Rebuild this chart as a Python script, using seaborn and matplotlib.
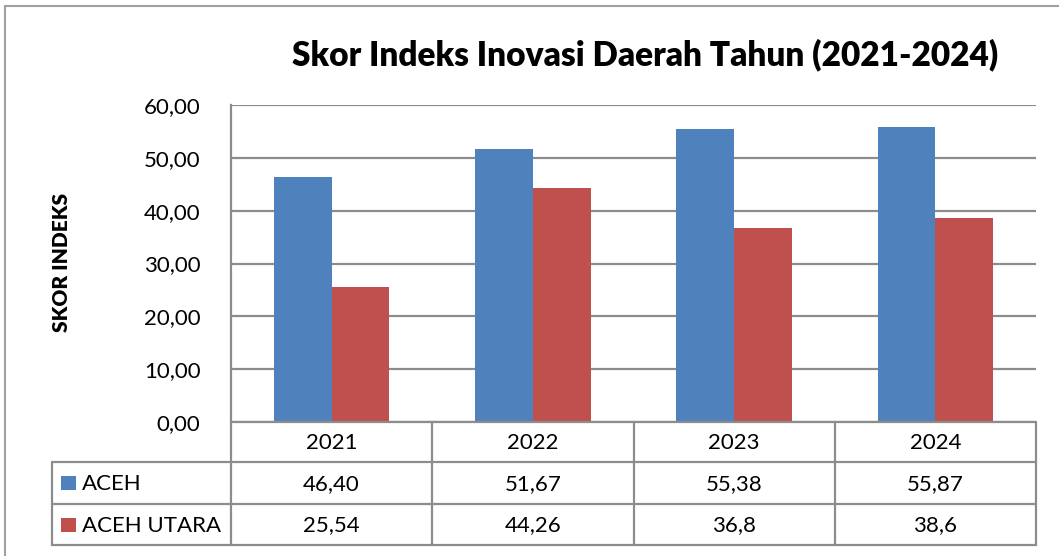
import matplotlib
matplotlib.use("Agg")
import matplotlib.pyplot as plt
import matplotlib.transforms as mtransforms
from matplotlib.patches import Rectangle
import seaborn as sns
import pandas as pd

# Data: index scores per year (decimal comma as published)
years = ["2021", "2022", "2023", "2024"]
series_names = ["ACEH", "ACEH UTARA"]
aceh_text = ["46,40", "51,67", "55,38", "55,87"]
aceh_utara_text = ["25,54", "44,26", "36,8", "38,6"]
y_ticks = [0, 10, 20, 30, 40, 50, 60]

colors = ["#4F81BD", "#C0504D"]
grid_col = "#8C8C8C"
font = ["Lato", "DejaVu Sans"]
fs = 16


def to_num(s):
    return float(s.replace(",", "."))


rows = []
for name, texts in zip(series_names, [aceh_text, aceh_utara_text]):
    for yr, t in zip(years, texts):
        rows.append({"Tahun": yr, "Wilayah": name, "Skor": to_num(t)})
df = pd.DataFrame(rows)

sns.set_theme(style="white")
plt.rcParams["font.family"] = font
plt.rcParams["text.color"] = "black"
plt.rcParams["ytick.color"] = "black"

W, H = 1059, 556
fig = plt.figure(figsize=(W / 100, H / 100), dpi=100)

px_l, px_r, px_t, px_b = 231, 1036, 105, 422
ax = fig.add_axes([px_l / W, 1 - px_b / H, (px_r - px_l) / W, (px_b - px_t) / H])

sns.barplot(data=df, x="Tahun", y="Skor", hue="Wilayah", order=years,
            hue_order=series_names, palette=colors, width=0.575, gap=0,
            saturation=1, ax=ax, legend=False, linewidth=0)

ax.set_xlim(-0.5, len(years) - 0.5)
ax.set_ylim(0, 60)
ax.set_yticks(y_ticks)
ax.set_yticklabels([f"{v:.2f}".replace(".", ",") for v in y_ticks], fontsize=fs)
ax.tick_params(axis="y", length=0, pad=22, labelcolor="black")
ax.set_xticks([])
ax.set_xlabel("")
ax.set_ylabel("")
ax.yaxis.grid(True, color=grid_col, linewidth=1.6)
ax.set_axisbelow(True)
for s in ["top", "right", "bottom"]:
    ax.spines[s].set_visible(False)
ax.spines["left"].set_color(grid_col)
ax.spines["left"].set_linewidth(1.6)

# Y axis title
fig.text(62 / W, 1 - 262 / H, "SKOR INDEKS", rotation=90, ha="center",
         va="center", fontsize=15, fontweight="heavy", family=font)

# Chart title
fig.text(645 / W, 1 - 55 / H, "Skor Indeks Inovasi Daerah Tahun (2021-2024)",
         ha="center", va="center", fontsize=24, fontweight="heavy", family=font)

# Data table under the axis (x in data units, y in figure pixels)
trans = mtransforms.blended_transform_factory(ax.transData, fig.transFigure)


def fy(py):
    return 1 - py / H


x_left = -0.5
row_hdr = (422, 462)
row1 = (462, 504)
row2 = (504, 545)
lab_left_px = 52
tlw = 1.6

# horizontal table rules
for py in [row1[0], row2[0], row2[1]]:
    fig.add_artist(plt.Line2D([lab_left_px / W, px_r / W], [fy(py), fy(py)],
                              color=grid_col, linewidth=tlw))
fig.add_artist(plt.Line2D([px_l / W, px_r / W], [fy(422), fy(422)],
                          color=grid_col, linewidth=tlw))
# vertical table rules
for i in range(len(years) + 1):
    xb = x_left + i
    fig.add_artist(plt.Line2D([xb, xb], [fy(422), fy(545)], color=grid_col,
                              linewidth=tlw, transform=trans))
fig.add_artist(plt.Line2D([lab_left_px / W, lab_left_px / W], [fy(462), fy(545)],
                          color=grid_col, linewidth=tlw))

# year header
for i, yr in enumerate(years):
    fig.text(i, fy(sum(row_hdr) / 2 + 1), yr, transform=trans, ha="center",
             va="center", fontsize=fs, family=font)

# series rows with legend keys
for (r0, r1), name, texts, c in zip([row1, row2], series_names,
                                     [aceh_text, aceh_utara_text], colors):
    yc = (r0 + r1) / 2
    fig.add_artist(Rectangle((61 / W, fy(yc + 7)), 15 / W, 14 / H,
                             facecolor=c, edgecolor="none",
                             transform=fig.transFigure))
    fig.text(82 / W, fy(yc + 1), name, ha="left", va="center",
             fontsize=fs, family=font)
    for i, t in enumerate(texts):
        fig.text(i, fy(yc + 1), t, transform=trans, ha="center", va="center",
                 fontsize=fs, family=font)

# outer chart border (top and left edges)
fig.add_artist(plt.Line2D([5 / W, 1.0], [fy(6), fy(6)], color="#A0A0A0",
                          linewidth=1.5))
fig.add_artist(plt.Line2D([5 / W, 5 / W], [fy(6), 0.0], color="#A0A0A0",
                          linewidth=1.5))

fig.savefig("out.png", dpi=100, facecolor="white")
